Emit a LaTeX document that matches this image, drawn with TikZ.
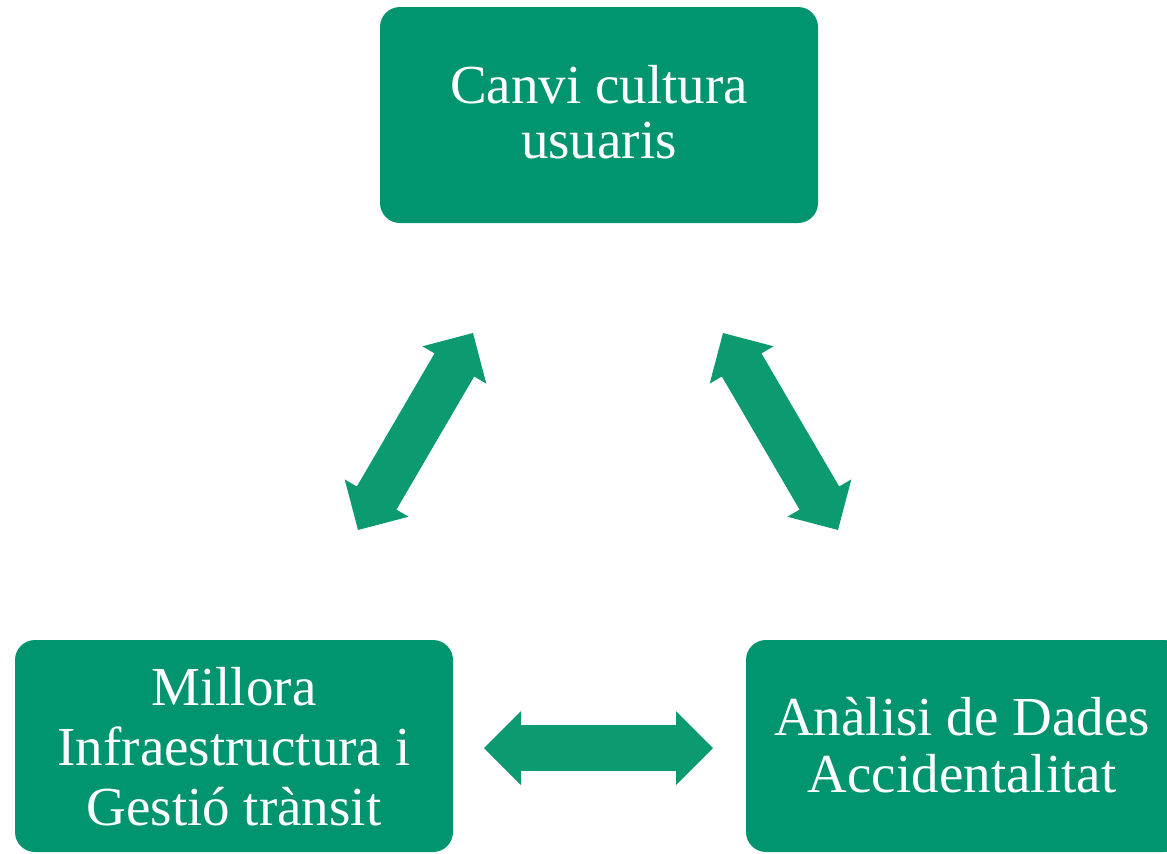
\documentclass[tikz,border=0pt]{standalone}
\usepackage{fontspec}
\setmainfont{Liberation Serif}
\usetikzlibrary{calc}
\definecolor{boxgreen}{RGB}{0,149,111}
\definecolor{arrgreen}{RGB}{12,154,112}
\newcommand\arrHL{27.75pt}
\newcommand\arrHW{27.75pt}
\newcommand\arrSW{17.2pt}
\newcommand\dblarrow[2]{%
  \fill[arrowfill] (#1)
   -- ($(#1)!\arrHL!(#2)!\arrHW!90:(#2)$)
   -- ($(#1)!\arrHL!(#2)!\arrSW!90:(#2)$)
   -- ($(#2)!\arrHL!(#1)!\arrSW!-90:(#1)$)
   -- ($(#2)!\arrHL!(#1)!\arrHW!-90:(#1)$)
   -- (#2)
   -- ($(#2)!\arrHL!(#1)!\arrHW!90:(#1)$)
   -- ($(#2)!\arrHL!(#1)!\arrSW!90:(#1)$)
   -- ($(#1)!\arrHL!(#2)!\arrSW!-90:(#2)$)
   -- ($(#1)!\arrHL!(#2)!\arrHW!-90:(#2)$)
   -- cycle;}
\tikzset{
  greenbox/.style={fill=boxgreen, draw=none, rounded corners=15pt,
    minimum width=328.5pt, inner sep=0pt},
  boxtext/.style={text=white, align=center, inner sep=0pt, anchor=base},
  arrowfill/.style={fill=arrgreen}
}
\begin{document}
\begin{tikzpicture}[x=0.75pt, y=-0.75pt]
\useasboundingbox (0,0) rectangle (1167,853);
\clip (0,0) rectangle (1167,853);
% boxes
\node[greenbox, minimum height=162pt] (cult) at (599,115) {};
\node[greenbox, minimum height=159pt] (infra) at (234,746) {};
\node[greenbox, minimum height=159pt] (dades) at (965,746) {};
% texts (base anchor = baseline of the last line)
\node[boxtext, font=\fontsize{41.25pt}{41.25pt}\selectfont] (cultt) at (599,158) {Canvi cultura\\usuaris};
\node[boxtext, font=\fontsize{41.25pt}{45pt}\selectfont] (infrat) at (234,825) {Millora\\Infraestructura i\\Gestió trànsit};
\node[boxtext, font=\fontsize{41.25pt}{42.75pt}\selectfont] (dadest) at (962,792) {Anàlisi de Dades\\Accidentalitat};
% arrow end points
\coordinate (la) at (473,333);
\coordinate (lb) at (358,530);
\coordinate (ra) at (723,333);
\coordinate (rb) at (838,530);
\coordinate (ha) at (484,748);
\coordinate (hb) at (713,748);
\dblarrow{la}{lb}
\dblarrow{ra}{rb}
\dblarrow{ha}{hb}
\end{tikzpicture}
\end{document}
